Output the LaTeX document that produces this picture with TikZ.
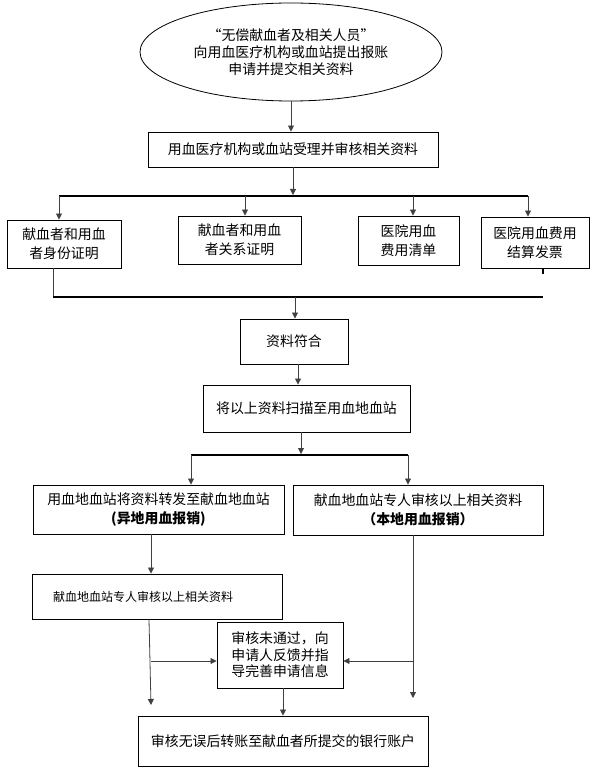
\documentclass[tikz,border=0pt]{standalone}
\usepackage{fontspec}
\setmainfont{Noto Sans CJK SC}
\usetikzlibrary{arrows.meta,shapes.geometric,calc}
\tikzset{
  box/.style={draw=black,line width=0.9pt,rectangle,inner sep=0pt,align=center,
    font=\fontsize{13.9}{18.5}\selectfont},
  arr/.style={draw=black!75,line width=0.8pt,-{Triangle[length=6pt,width=6pt]}},
  ln/.style={draw=black!75,line width=0.8pt},
  bus/.style={draw=black,line width=2.6pt},
}
\begin{document}
\begin{tikzpicture}[x=1pt,y=-1pt]
\useasboundingbox (0,0) rectangle (596,775);
% nodes
\node[draw=black,line width=0.8pt,ellipse,minimum width=302pt,minimum height=98pt,inner sep=0pt,align=center,
  font=\fontsize{13.9}{17}\selectfont] (ell) at (291,52) {“无偿献血者及相关人员”\\向用血医疗机构或血站提出报账\\申请并提交相关资料};
\node[box,minimum width=290pt,minimum height=35pt] (b1) at (293,149.5) {用血医疗机构或血站受理并审核相关资料};
\node[box,minimum width=114pt,minimum height=48pt] (A) at (64,244) {献血者和用血\\者身份证明};
\node[box,minimum width=123pt,minimum height=48pt] (B) at (239.5,240) {献血者和用血\\者关系证明};
\node[box,minimum width=101pt,minimum height=49pt] (C) at (408.5,240.5) {医院用血\\费用清单};
\node[box,minimum width=108pt,minimum height=51pt] (D) at (535,242.5) {医院用血费用\\结算发票};
\node[box,minimum width=108pt,minimum height=45pt] (fit) at (294,341.5) {资料符合};
\node[box,minimum width=207pt,minimum height=47pt] (scan) at (306.5,408.5) {将以上资料扫描至用血地血站};
\node[box,minimum width=251pt,minimum height=49pt] (E) at (158.5,509.5) {用血地血站将资料转发至献血地血站\\{\bfseries (异地用血报销)}};
\node[box,minimum width=250pt,minimum height=50pt] (F) at (418,510) {献血地血站专人审核以上相关资料\\{\bfseries （本地用血报销）}};
\node[box,minimum width=250pt,minimum height=45pt,text width=208pt,inner xsep=21pt,align=left,
  font=\fontsize{12}{14}\selectfont] (G) at (157,596.5) {献血地血站专人审核以上相关资料};
\node[box,minimum width=126pt,minimum height=66pt,font=\fontsize{13.9}{16.5}\selectfont] (H) at (280,655) {审核未通过，向\\申请人反馈并指\\导完善申请信息};
\node[box,minimum width=290pt,minimum height=50pt] (fin) at (283,741) {审核无误后转账至献血者所提交的银行账户};
% coordinates
\coordinate (bus1L) at (59,196);
\coordinate (bus1R) at (528,196);
\coordinate (tB) at (245,196);
\coordinate (tC) at (413,196);
\coordinate (bus2L) at (53,297);
\coordinate (bus2R) at (543,297);
\coordinate (tick) at (543,274);
\coordinate (mid2) at (295,297);
\coordinate (bus3L) at (191,455);
\coordinate (bus3R) at (408,455);
\coordinate (eg) at (151,455);
\coordinate (gTop) at (149,619);
\coordinate (gEnd) at (151,705);
\coordinate (gMid) at (151,661);
\coordinate (fTop) at (413,535);
\coordinate (fEnd) at (413,698);
\coordinate (fMid) at (413,661);
% connectors
\draw[arr] (ell.south) -- (b1.north -| ell.south);
\draw[bus] (bus1L) -- (bus1R);
\draw[arr] (b1.south) -- ($(b1.south |- bus1L)+(0,-1)$);
\draw[arr] (bus1L) -- (bus1L |- A.north);
\draw[arr] (tB) -- (tB |- B.north);
\draw[arr] (tC) -- (tC |- C.north);
\draw[arr] (bus1R) -- (bus1R |- D.north);
\draw[ln] (bus2L |- A.south) -- (bus2L);
\draw[bus] (bus2L) -- (bus2R);
\draw[line width=1.6pt] (tick |- D.south) -- (tick);
\draw[arr] (mid2) -- (mid2 |- fit.north);
\draw[arr] (fit.south) ++(4,0) coordinate (fs) -- (fs |- scan.north);
\draw[arr] (scan.south -| 301,0) coordinate (ss) -- ($(ss |- bus3L)+(0,-1)$);
\draw[bus] (bus3L) -- (bus3R);
\draw[arr] (bus3L) -- (bus3L |- E.north);
\draw[arr] (bus3R) -- (bus3R |- F.north);
\draw[arr] (eg |- E.south) -- (eg |- G.north);
\draw[arr] (gTop |- G.south) -- (gEnd);
\draw[arr] (gMid) -- (H.west |- gMid);
\draw[arr] (fTop |- F.south) -- (fEnd);
\draw[arr] (fMid) -- (H.east |- fMid);
\draw[arr] (H.south -| 283,0) coordinate (hs) -- (hs |- fin.north);
\end{tikzpicture}
\end{document}
